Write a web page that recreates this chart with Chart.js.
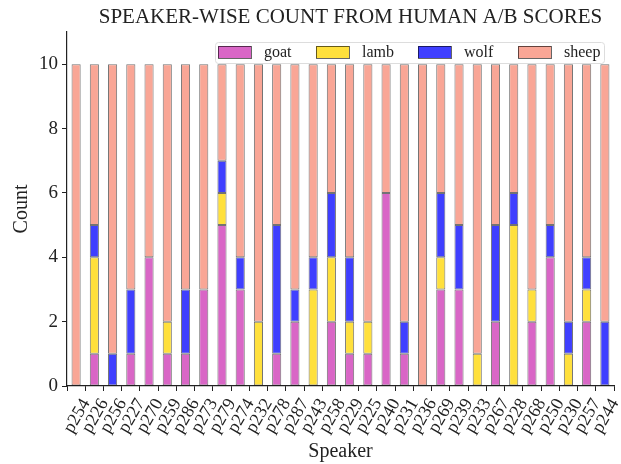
<!DOCTYPE html>
<html>
<head>
<meta charset="utf-8">
<script src="https://cdn.jsdelivr.net/npm/chart.js@4/dist/chart.umd.min.js"></script>
<style>
    html, body { margin: 0; padding: 0; background: #fff; }
    #wrap { width: 621px; height: 464px; }
</style>
</head>
<body>
<div id="wrap"><canvas id="speakerChart" width="621" height="464"></canvas></div>
<script>
// speaker-wise goat/lamb/wolf/sheep counts
const speakers = ['p254', 'p226', 'p256', 'p227', 'p270', 'p259', 'p286', 'p273', 'p279', 'p274',
    'p232', 'p278', 'p287', 'p243', 'p258', 'p229', 'p225', 'p240', 'p231', 'p236',
    'p269', 'p239', 'p233', 'p267', 'p228', 'p268', 'p250', 'p230', 'p257', 'p244'];
const goat  = [0, 1, 0, 1, 4, 1, 1, 3, 5, 3, 0, 1, 2, 0, 2, 1, 1, 6, 1, 0, 3, 3, 0, 2, 0, 2, 4, 0, 2, 0];
const lamb  = [0, 3, 0, 0, 0, 1, 0, 0, 1, 0, 2, 0, 0, 3, 2, 1, 1, 0, 0, 0, 1, 0, 1, 0, 5, 1, 0, 1, 1, 0];
const wolf  = [0, 1, 1, 2, 0, 0, 2, 0, 1, 1, 0, 4, 1, 1, 2, 2, 0, 0, 1, 0, 2, 2, 0, 3, 1, 0, 1, 1, 1, 2];
const sheep = [10, 5, 9, 7, 6, 8, 7, 7, 3, 6, 8, 5, 7, 6, 4, 6, 8, 4, 8, 10, 4, 5, 9, 5, 4, 7, 5, 8, 6, 8];
const yTicks = [0, 2, 4, 6, 8, 10];

const seriesNames = ['goat', 'lamb', 'wolf', 'sheep'];
const seriesColors = ['rgb(217, 102, 198)', 'rgb(255, 224, 60)', 'rgb(63, 63, 255)', 'rgb(249, 166, 150)'];
const seriesData = [goat, lamb, wolf, sheep];

const titleText = 'SPEAKER-WISE COUNT FROM HUMAN A/B SCORES';
const serif = "'Liberation Serif', 'DejaVu Serif', serif";

// title over the plot area plus a legend inside the plot, top right
const overlay = {
    id: 'overlay',
    afterDraw(chart) {
        const ctx = chart.ctx;
        const area = chart.chartArea;
        ctx.save();
        ctx.font = '21px ' + serif;
        ctx.fillStyle = '#222';
        ctx.textAlign = 'center';
        ctx.textBaseline = 'middle';
        ctx.fillText(titleText, (area.left + area.right) / 2 + 10, 17);

        const left = area.right - 399, top = area.top + 10;
        const w = 389, h = 21;
        ctx.fillStyle = 'rgba(255,255,255,0.85)';
        ctx.strokeStyle = '#dddddd';
        ctx.lineWidth = 1;
        ctx.beginPath();
        ctx.roundRect(left + 0.5, top + 0.5, w, h, 3);
        ctx.fill();
        ctx.stroke();
        const offsets = [3, 101, 203, 303];
        ctx.font = '16px ' + serif;
        ctx.textAlign = 'left';
        chart.data.datasets.forEach((ds, i) => {
            const x = left + offsets[i];
            ctx.fillStyle = ds.backgroundColor;
            ctx.fillRect(x, top + 4, 33, 12);
            ctx.strokeStyle = 'rgba(0,0,0,0.6)';
            ctx.strokeRect(x + 0.5, top + 4.5, 33, 12);
            ctx.fillStyle = '#222';
            ctx.fillText(ds.label, x + 46, top + 10.5);
        });
        ctx.restore();
    }
};

new Chart(document.getElementById('speakerChart'), {
    type: 'bar',
    data: {
        labels: speakers,
        datasets: seriesNames.map((name, i) => ({
            label: name,
            data: seriesData[i],
            backgroundColor: seriesColors[i],
            borderColor: 'rgba(0,0,0,0.55)',
            borderWidth: 1,
            borderSkipped: false,
            categoryPercentage: 1.0,
            barPercentage: 0.5
        }))
    },
    options: {
        responsive: false,
        animation: false,
        layout: { padding: { left: 0, right: 7, top: 32, bottom: 0 } },
        plugins: {
            legend: { display: false },
            tooltip: { enabled: false },
            title: { display: false }
        },
        scales: {
            x: {
                stacked: true,
                grid: { drawOnChartArea: false, tickLength: 5, tickColor: '#222', color: '#222' },
                border: { color: '#222', width: 1.2 },
                ticks: {
                    color: '#222',
                    font: { family: serif, size: 18 },
                    minRotation: 60,
                    maxRotation: 60,
                    autoSkip: false,
                    padding: 4,
                    labelOffset: 10
                },
                title: {
                    display: true,
                    text: 'Speaker',
                    color: '#222',
                    font: { family: serif, size: 20 },
                    padding: { top: 0, bottom: 0 }
                },
                afterFit: s => {
                    s.height = 78;
                    s.paddingLeft = 0;
                    s.paddingRight = 0;
                }
            },
            y: {
                stacked: true,
                min: 0,
                max: 11,
                afterBuildTicks: s => { s.ticks = yTicks.map(v => ({ value: v })); },
                grid: { drawOnChartArea: false, tickLength: 5, tickColor: '#222', color: '#222' },
                border: { color: '#222', width: 1.2 },
                ticks: {
                    color: '#222',
                    font: { family: serif, size: 19 },
                    padding: 4
                },
                title: {
                    display: true,
                    text: 'Count',
                    color: '#222',
                    font: { family: serif, size: 20 },
                    padding: { top: 10, bottom: 0 }
                },
                afterFit: s => {
                    s.width = 67;
                    s.paddingTop = 0;
                    s.paddingBottom = 0;
                }
            }
        }
    },
    plugins: [overlay]
});
</script>
</body>
</html>
